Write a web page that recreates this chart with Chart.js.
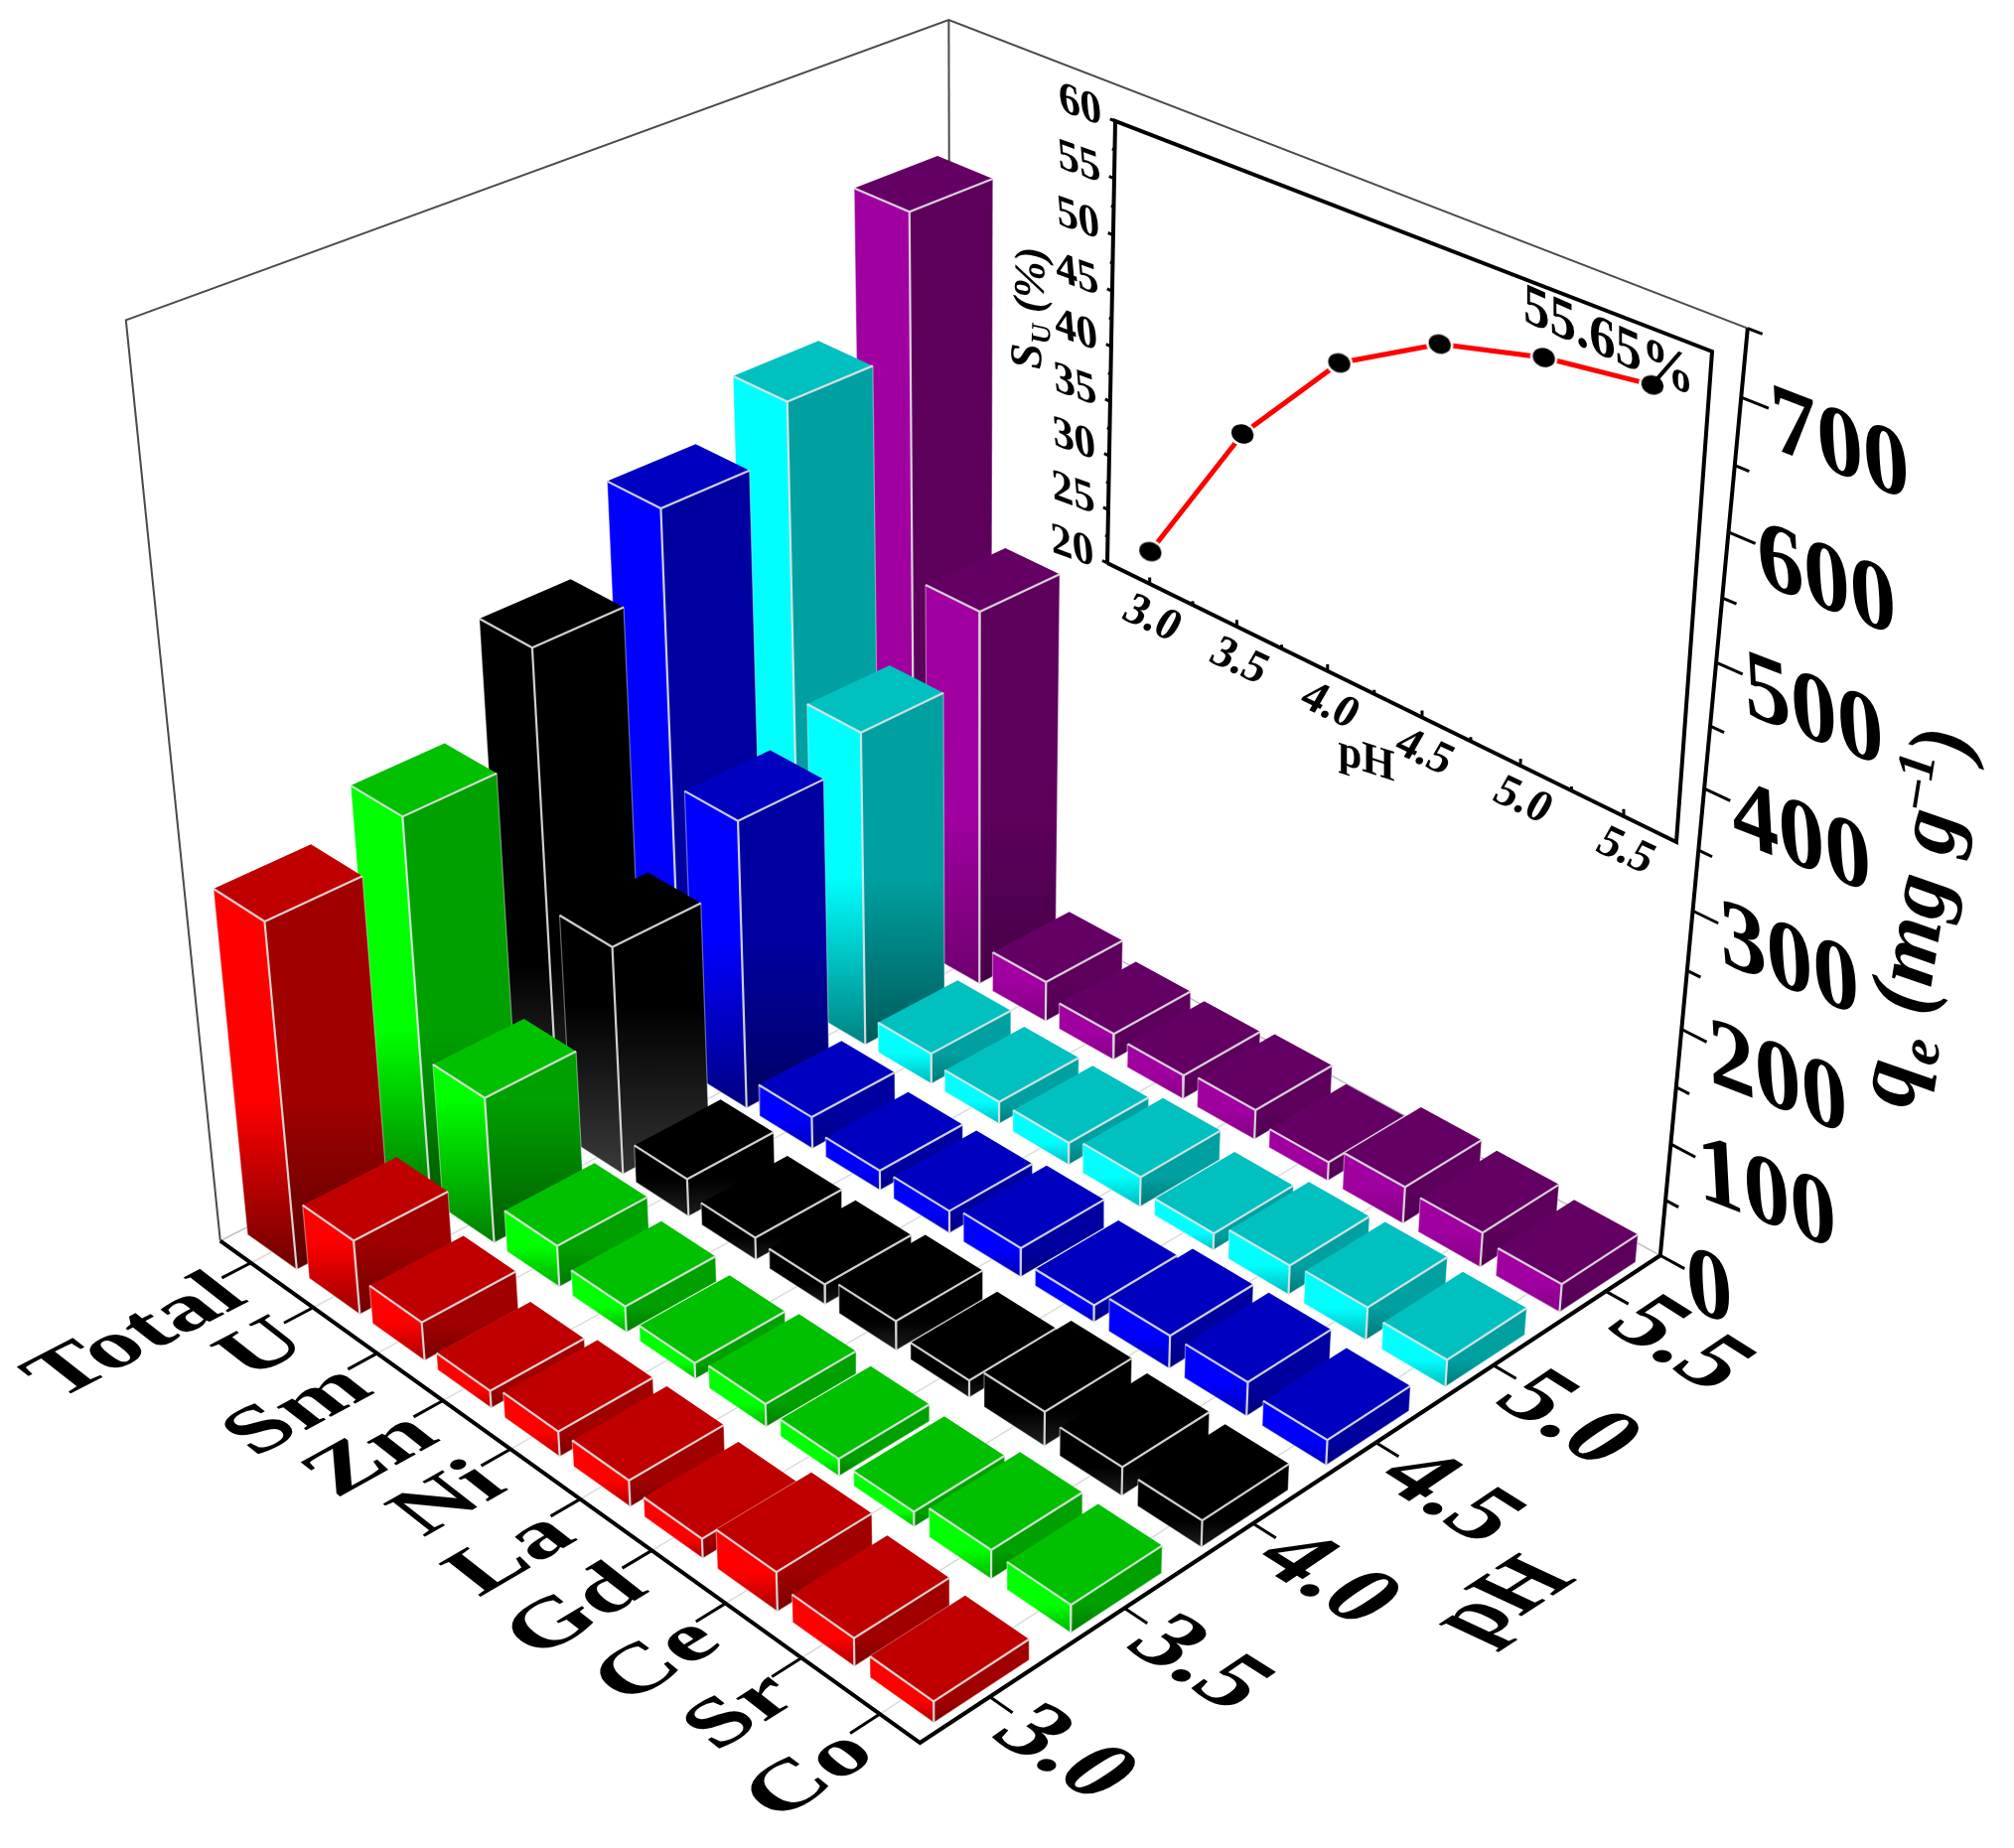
<!DOCTYPE html>
<html>
<head>
<meta charset="utf-8">
<title>qe by element and pH</title>
<script src="https://cdn.jsdelivr.net/npm/chart.js@4"></script>
<style>
  html, body { margin: 0; background: #fff; }
  canvas { display: block; }
</style>
</head>
<body>
<canvas id="c" width="2028" height="1861"></canvas>
<script>
// Elements front-to-back along one axis, pH along the other.
const categories = ["Total", "U", "Sm", "Zn", "Ni", "La", "Gd", "Ce", "Sr", "Co"];
const phLabels = ["3.0", "3.5", "4.0", "4.5", "5.0", "5.5"];
const qTicks = [0, 100, 200, 300, 400, 500, 600, 700];

const qPh30 = [303, 66, 34, 15, 22, 23, 17, 34, 24, 18];
const qPh35 = [336, 130, 37, 23, 14, 20, 15, 13, 25, 24];
const qPh40 = [425, 204, 34, 20, 18, 26, 15, 30, 25, 23];
const qPh45 = [492, 259, 29, 18, 20, 26, 15, 29, 30, 22];
const qPh50 = [535, 284, 28, 20, 20, 27, 15, 26, 29, 24];
const qPh55 = [648, 340, 37, 24, 22, 27, 17, 33, 31, 25];
const rows = [qPh30, qPh35, qPh40, qPh45, qPh50, qPh55];

// inset
const insetPh = [3.0, 3.5, 4.0, 4.5, 5.0, 5.5];
const insetSu = [23, 37.4, 47.1, 52.1, 54.4, 55.65];
const insetYTicks = [20, 25, 30, 35, 40, 45, 50, 55, 60];

const Q_MAX = 750;
const BAR_A = 0.80, BAR_P = 0.69;

// top, left face, right face, left foot, right foot
const rowColors = [
  { top: [192, 0, 0],   l: [255, 0, 0],   r: [160, 0, 0],   lf: [110, 0, 0],  rf: [90, 0, 0] },
  { top: [0, 192, 0],   l: [0, 255, 0],   r: [0, 160, 0],   lf: [0, 120, 0],  rf: [0, 90, 0] },
  { top: [0, 0, 0],     l: [0, 0, 0],     r: [0, 0, 0],     lf: [58, 58, 58], rf: [50, 50, 50] },
  { top: [0, 0, 192],   l: [0, 0, 255],   r: [0, 0, 160],   lf: [0, 0, 130],  rf: [0, 0, 100] },
  { top: [0, 192, 192], l: [0, 255, 255], r: [0, 160, 160], lf: [0, 130, 130], rf: [0, 90, 90] },
  { top: [100, 0, 100], l: [160, 0, 160], r: [92, 0, 92],   lf: [110, 0, 110], rf: [70, 0, 70] },
];

// Fit a projective map from unit box coords to the picture, by least squares.
function fitProjective(samples, dims) {
  const n = 2 * (dims + 1) + dims;
  const A = Array.from({ length: n }, () => new Array(n + 1).fill(0));
  const addRow = (row, rhs) => {
    for (let i = 0; i < n; i++) {
      for (let j = 0; j < n; j++) A[i][j] += row[i] * row[j];
      A[i][n] += row[i] * rhs;
    }
  };
  samples.forEach(([c, px]) => {
    const x = px[0] / 1000, y = px[1] / 1000;
    addRow([1, ...c, ...new Array(dims + 1).fill(0), ...c.map(v => -x * v)], x);
    addRow([...new Array(dims + 1).fill(0), 1, ...c, ...c.map(v => -y * v)], y);
  });
  for (let i = 0; i < n; i++) {
    let best = i;
    for (let r = i + 1; r < n; r++) if (Math.abs(A[r][i]) > Math.abs(A[best][i])) best = r;
    [A[i], A[best]] = [A[best], A[i]];
    for (let r = 0; r < n; r++) {
      if (r === i) continue;
      const f = A[r][i] / A[i][i];
      for (let k = i; k <= n; k++) A[r][k] -= f * A[i][k];
    }
  }
  const s = A.map((row, i) => row[n] / row[i]);
  return (...c) => {
    let nx = s[0], ny = s[dims + 1], d = 1;
    c.forEach((v, i) => {
      nx += s[1 + i] * v;
      ny += s[dims + 2 + i] * v;
      d += s[2 * dims + 2 + i] * v;
    });
    return { x: 1000 * nx / d, y: 1000 * ny / d };
  };
}

// a: Total -> Co, p: pH 3.0 -> 5.5, z: 0 -> Q_MAX
const box = fitProjective([
  [[0, 0, 0], [222, 1250]],
  [[1, 0, 0], [926, 1755]],
  [[1, 1, 0], [1672, 1264]],
  [[0, 0, 1], [127, 322]],
  [[0, 1, 1], [955, 20]],
  [[1, 1, 1], [1760, 331]],
], 3);

const insetBox = fitProjective([
  [[0, 0], [1115, 567]],
  [[1, 0], [1688, 848]],
  [[0, 1], [1123, 122]],
  [[1, 1], [1724, 354]],
], 2);
const INSET_X = [2.75, 5.75], INSET_Y = [20, 60];
const inset = (ph, su) => insetBox((ph - INSET_X[0]) / (INSET_X[1] - INSET_X[0]), (su - INSET_Y[0]) / (INSET_Y[1] - INSET_Y[0]));

const aOf = i => (i + 0.5) / categories.length;
const pOf = j => (j + 0.5) / phLabels.length;
const zOf = q => q / Q_MAX;

const ctx0 = document.getElementById("c").getContext("2d");
const rgb = c => `rgb(${c[0]},${c[1]},${c[2]})`;
const mix = (a, b, t) => a.map((v, i) => Math.round(v + (b[i] - v) * t));

function faceFill(base, foot, yTop, yFoot) {
  const h = yFoot - yTop;
  const t = 0.45 + 0.55 * Math.min(1, h / 160);
  const g = ctx0.createLinearGradient(0, yTop, 0, yFoot);
  g.addColorStop(0, rgb(base));
  g.addColorStop(Math.max(0, 1 - 170 / h), rgb(base));
  g.addColorStop(1, rgb(mix(base, foot, t)));
  return g;
}

// tilted dot for the inset curve, white ring gives the small gap in the line
function insetMarker() {
  const m = document.createElement("canvas");
  m.width = m.height = 36;
  const g = m.getContext("2d");
  g.translate(18, 18);
  g.rotate(0.4);
  g.beginPath();
  g.ellipse(0, 0, 14, 12, 0, 0, Math.PI * 2);
  g.fillStyle = "#fff";
  g.fill();
  g.beginPath();
  g.ellipse(0, 0, 11.5, 9.5, 0, 0, Math.PI * 2);
  g.fillStyle = "#000";
  g.fill();
  return m;
}

const layers = [];
const stroke = (data, color, width) => layers.push({
  data, showLine: true, pointRadius: 0, borderColor: color, borderWidth: width,
  fill: false, tension: 0, clip: false, borderCapStyle: "butt",
});
const face = (pts, fill) => layers.push({
  data: pts, showLine: true, pointRadius: 0, borderWidth: 0, borderColor: "rgba(0,0,0,0)",
  backgroundColor: fill, fill: "shape", tension: 0, clip: false,
});
const GAP = { x: null, y: null };

// walls
stroke([box(0, 0, 0), box(0, 0, 1), box(0, 1, 1), box(1, 1, 1)], "#4a4a4a", 2);
stroke([box(0, 1, 1), box(0, 1, 0)], "#4a4a4a", 2);

// floor grid
const grid = [];
categories.forEach((c, i) => grid.push(box(aOf(i), 0, 0), box(aOf(i), 1, 0), GAP));
stroke(grid, "#dcdcdc", 1.5);
stroke([box(0, 0, 0), box(0, 1, 0), box(1, 1, 0)], "#bdbdbd", 1.5);

// inset frame, ticks and curve
stroke([inset(2.75, 20), inset(2.75, 60), inset(5.75, 60), inset(5.75, 20), inset(2.75, 20)], "#000", 4);
const insetTicks = [];
for (let y = 20; y <= 60; y += 2.5) {
  const major = y % 5 === 0;
  insetTicks.push(inset(2.75, y), inset(major ? 2.72 : 2.735, y), GAP);
}
for (let x = 3; x <= 5.5; x += 0.25) {
  insetTicks.push(inset(x, 20), inset(x, x * 4 % 2 === 0 ? 20.6 : 20.35), GAP);
}
stroke(insetTicks, "#000", 3);
stroke(insetPh.map((x, k) => inset(x, insetSu[k])), "#ff0000", 5);
layers.push({
  data: insetPh.map((x, k) => inset(x, insetSu[k])), showLine: false,
  pointStyle: insetMarker(), pointRadius: 12, clip: false,
});

// bars, far row first, far category first
for (let j = rows.length - 1; j >= 0; j--) {
  const col = rowColors[j];
  const hp = BAR_P / phLabels.length / 2;
  categories.forEach((c, i) => {
    const ha = BAR_A / categories.length / 2;
    const a0 = aOf(i) - ha, a1 = aOf(i) + ha, p0 = pOf(j) - hp, p1 = pOf(j) + hp;
    const z = zOf(rows[j][i]);
    const lf = box(a0, p0, 0), ff = box(a1, p0, 0), rf = box(a1, p1, 0);
    const lt = box(a0, p0, z), ft = box(a1, p0, z), rt = box(a1, p1, z), bt = box(a0, p1, z);
    face([lf, ff, ft, lt], faceFill(col.l, col.lf, ft.y, ff.y));
    face([ff, rf, rt, ft], faceFill(col.r, col.rf, ft.y, ff.y));
    face([lt, ft, rt, bt], rgb(col.top));
    stroke([lt, lf, ff, rf, rt], "rgba(255,255,255,0.4)", 1.2);
    stroke([lt, ft, rt, GAP, ft, ff], "rgba(228,228,228,0.9)", 2.2);
  });
}

// main axes
stroke([box(0, 0, 0), box(1, 0, 0), box(1, 1, 0), box(1, 1, 1)], "#000", 4);
const axisTicks = [];
categories.forEach((c, i) => axisTicks.push(box(aOf(i), 0, 0), box(aOf(i), -0.035, 0), GAP));
phLabels.forEach((c, j) => axisTicks.push(box(1, pOf(j), 0), box(1.028, pOf(j), 0), GAP));
for (let q = 0; q <= 750; q += 50) {
  axisTicks.push(box(1, 1, zOf(q)), box(q % 100 === 0 ? 1.03 : 1.016, 1, zOf(q)), GAP);
}
stroke(axisTicks, "#000", 3);

const deg = d => d * Math.PI / 180;
const SERIF = '"Liberation Serif"';

// Text laid into the picture's planes: base = baseline angle, up = glyph-up angle.
function skewText(ctx, text, x, y, base, up, font, sy = 1, align = "center") {
  ctx.save();
  ctx.translate(x, y);
  ctx.transform(Math.cos(deg(base)), Math.sin(deg(base)), -sy * Math.cos(deg(up)), -sy * Math.sin(deg(up)), 0, 0);
  ctx.font = font;
  ctx.fillStyle = "#000";
  ctx.textAlign = align;
  ctx.textBaseline = "middle";
  ctx.fillText(text, 0, 0);
  ctx.restore();
}

// Pieces written one after another along one baseline.
function richText(ctx, pieces, x, y, base, up) {
  ctx.save();
  ctx.translate(x, y);
  ctx.transform(Math.cos(deg(base)), Math.sin(deg(base)), -Math.cos(deg(up)), -Math.sin(deg(up)), 0, 0);
  ctx.fillStyle = "#000";
  ctx.textAlign = "left";
  ctx.textBaseline = "alphabetic";
  let cx = 0;
  pieces.forEach(([t, font, dy]) => {
    ctx.font = font;
    ctx.fillText(t, cx, dy);
    cx += ctx.measureText(t).width;
  });
  ctx.restore();
}

const labelsPlugin = {
  id: "labels",
  afterDatasetsDraw(chart) {
    const ctx = chart.ctx;
    const sx = chart.scales.x, sy = chart.scales.y;
    const px = pt => ({ x: sx.getPixelForValue(pt.x), y: sy.getPixelForValue(pt.y) });

    categories.forEach((c, i) => {
      const t = px(box(aOf(i), -0.035, 0));
      const far = box(aOf(i), 1, 0), near = box(aOf(i), 0, 0);
      const base = Math.atan2(far.y - near.y, far.x - near.x) * 180 / Math.PI;
      skewText(ctx, c, t.x + 12, t.y + 10, base, -142, `bold 100px ${SERIF}`, 0.82, "right");
    });
    phLabels.forEach((c, j) => {
      const t = px(box(1.028, pOf(j), 0));
      skewText(ctx, c, t.x + 50, t.y + 42, 32, -34, `bold 102px ${SERIF}`, 0.98);
    });
    skewText(ctx, "pH", 1516, 1612, -33, -155, `bold 90px ${SERIF}`, 1.1);

    qTicks.forEach(q => {
      const t = px(box(1.03, 1, zOf(q)));
      skewText(ctx, String(q), t.x + 2, t.y + 14, 21, -93, `bold 100px ${SERIF}`, 1, "left");
    });
    richText(ctx, [
      ["q", `italic bold 92px ${SERIF}`, 0],
      ["e", `italic bold 58px ${SERIF}`, 18],
      [" (mg g", `italic bold 88px ${SERIF}`, 0],
      ["\u20131", `italic bold 54px ${SERIF}`, -32],
      [")", `italic bold 88px ${SERIF}`, 0],
    ], 1925, 1117, -81, -171);

    // inset text
    insetYTicks.forEach(v => {
      const t = px(inset(2.72, v));
      skewText(ctx, String(v), t.x - 30, t.y - 13, 20, -95, `bold 46px ${SERIF}`);
    });
    insetPh.forEach(v => {
      const t = px(inset(v, 20));
      skewText(ctx, v.toFixed(1), t.x + 2, t.y + 36, 25, -60, `bold 46px ${SERIF}`);
    });
    skewText(ctx, "pH", 1376, 766, 18, -90, `bold 45px ${SERIF}`);
    skewText(ctx, "55.65%", 1620, 346, 24, -90, `bold 58px ${SERIF}`);
    richText(ctx, [
      ["S", `italic bold 46px ${SERIF}`, 0],
      ["U", `italic bold 28px ${SERIF}`, 8],
      [" (%)", `italic bold 44px ${SERIF}`, 0],
    ], 1048, 372, -88, -178);
  },
};

new Chart(ctx0, {
  type: "scatter",
  data: { datasets: layers.slice().reverse() },
  options: {
    responsive: false,
    animation: false,
    events: [],
    layout: { padding: 0, autoPadding: false },
    plugins: { legend: { display: false }, tooltip: { enabled: false }, title: { display: false } },
    scales: {
      x: { type: "linear", display: false, min: 0, max: 2028 },
      y: { type: "linear", display: false, min: 0, max: 1861, reverse: true },
    },
  },
  plugins: [labelsPlugin],
});
</script>
</body>
</html>
